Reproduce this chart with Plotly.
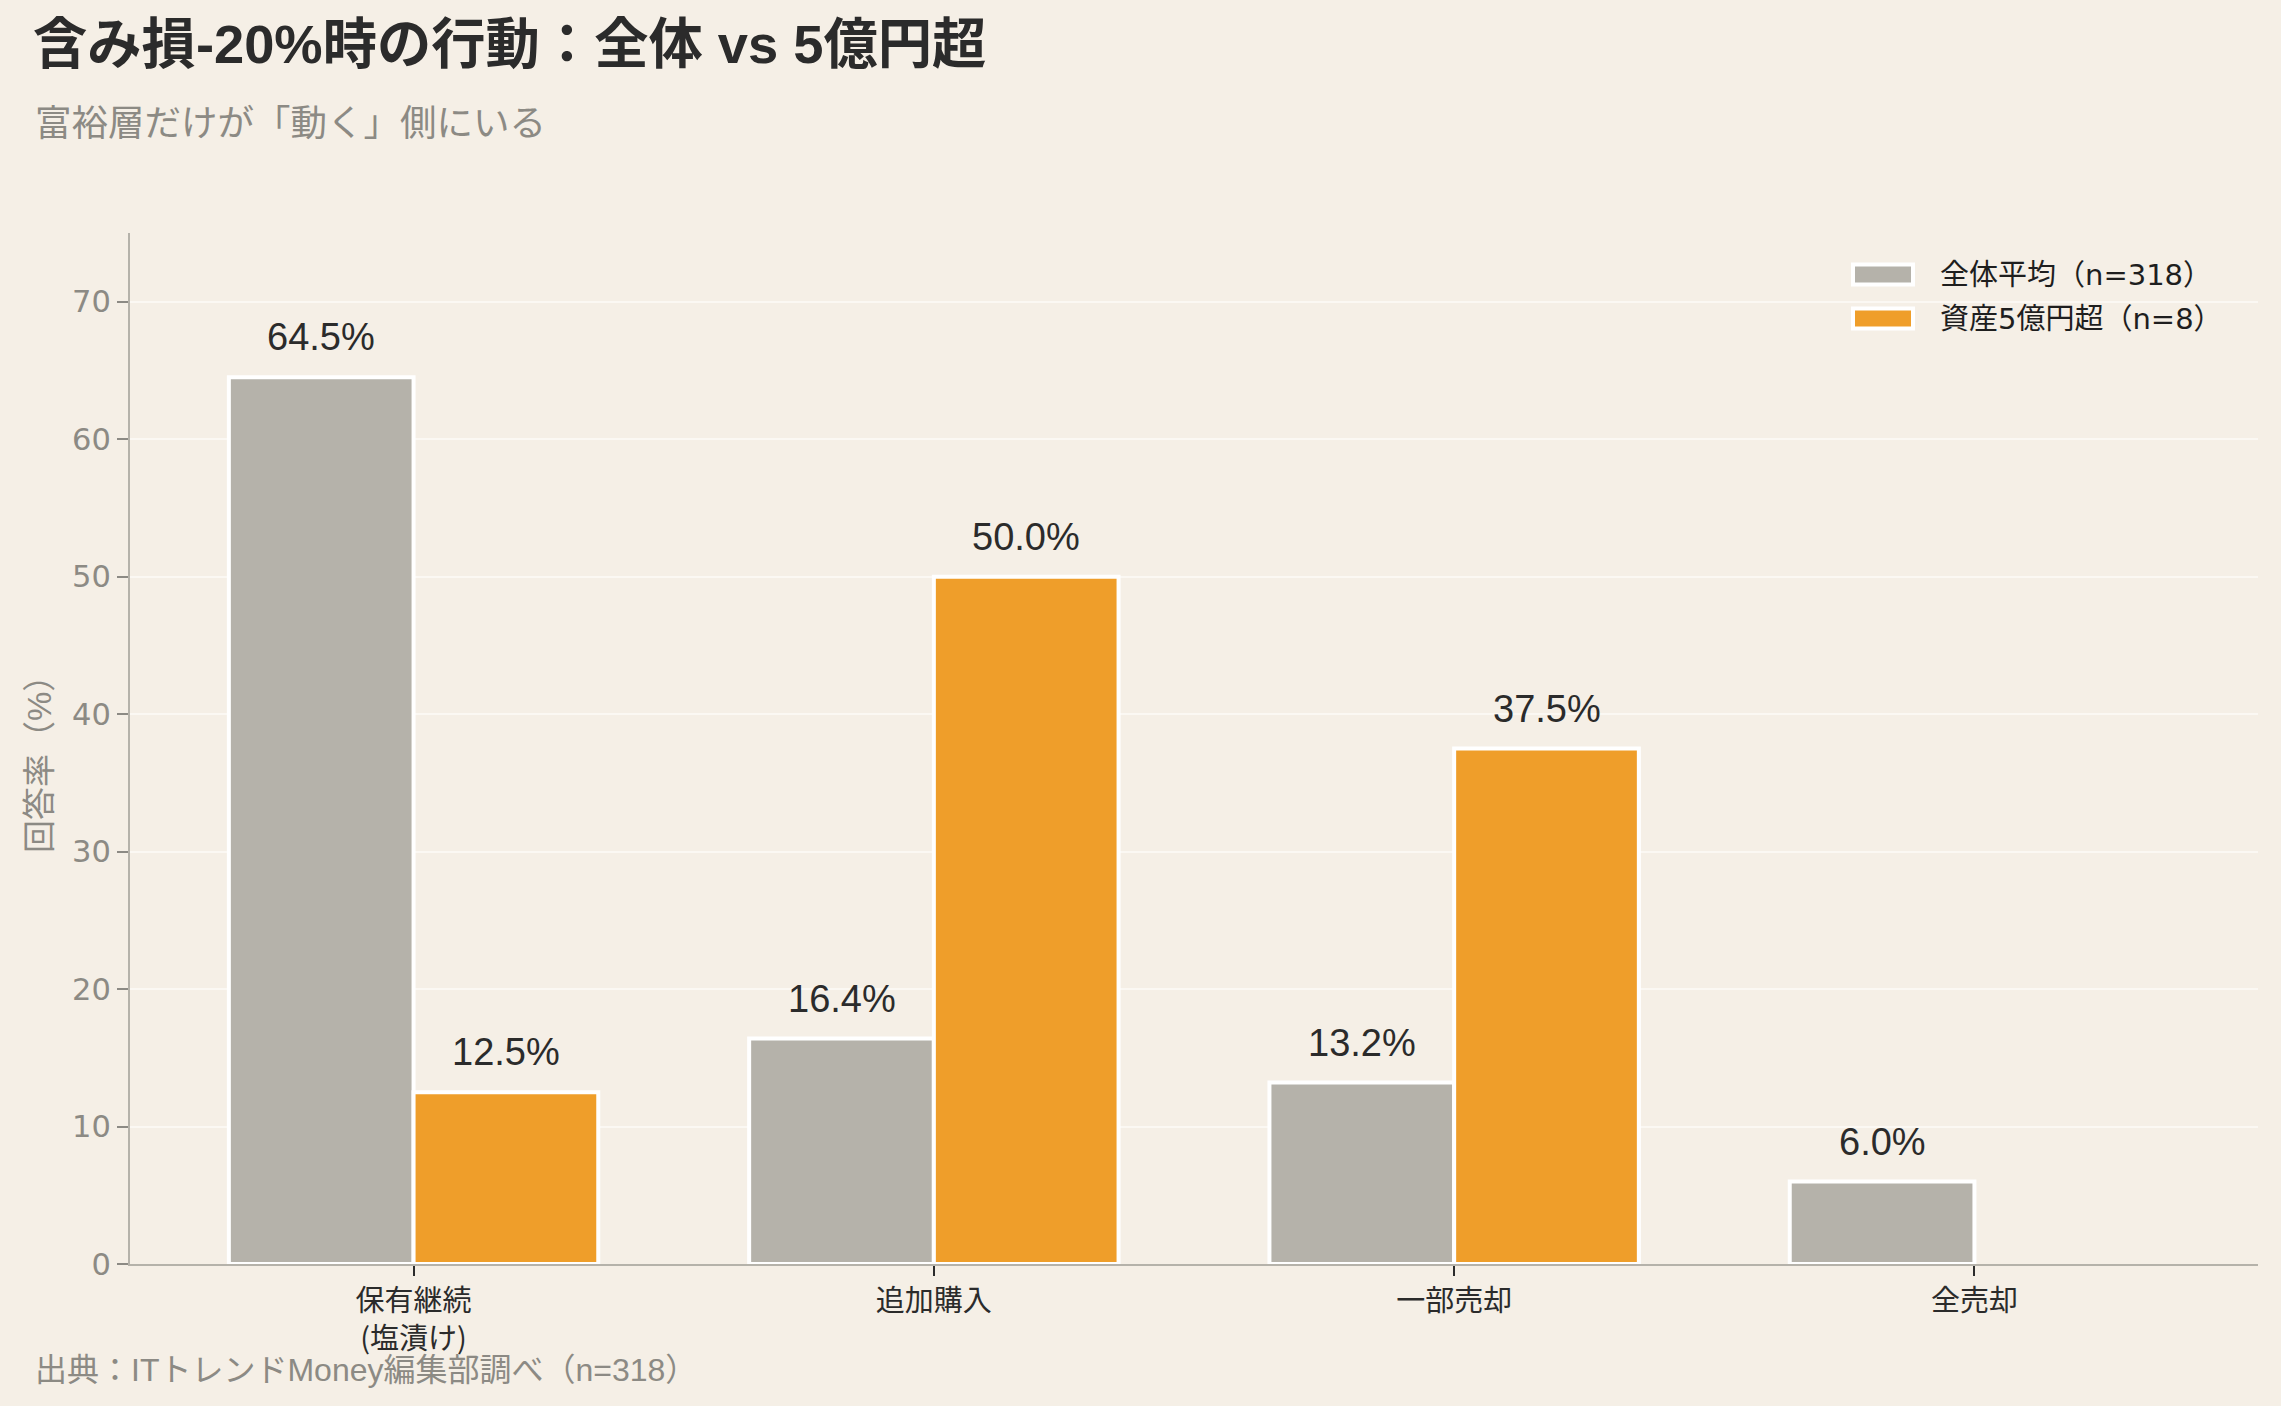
import plotly.graph_objects as go

# ---- data ----
categories = ["保有継続<br>(塩漬け)", "追加購入", "一部売却", "全売却"]
series_names = ["全体平均（n=318）", "資産5億円超（n=8）"]
overall = [64.5, 16.4, 13.2, 6.0]
wealthy = [12.5, 50.0, 37.5, 0.0]
y_ticks = [0, 10, 20, 30, 40, 50, 60, 70]

title_text = "含み損-20%時の行動：全体 vs 5億円超"
subtitle_text = "富裕層だけが「動く」側にいる"
source_text = "出典：ITトレンドMoney編集部調べ（n=318）"
y_title = "回答率（%）"

# ---- style ----
BG = "#F5EFE6"
GRAY = "#B5B2AA"
ORANGE = "#EF9E2A"
DARK = "#2B2B2B"
MUTED = "#8C8A84"
FONT = "Liberation Sans, Noto Sans CJK JP, sans-serif"
CJK = "Noto Sans CJK JP, sans-serif"
NUM = "DejaVu Sans, Noto Sans CJK JP, sans-serif"

W, H = 2281, 1406
L, R, T, B = 130, 23, 233, 142
PW, PH = W - L - R, H - T - B

def px_x(x):
    return (x - L) / PW

def px_y(y):
    return (H - B - y) / PH

series = [overall, wealthy]
colors = [GRAY, ORANGE]

fig = go.Figure()
for name, vals, col in zip(series_names, series, colors):
    fig.add_trace(go.Bar(
        x=list(range(len(categories))),
        y=[v if v > 0 else None for v in vals],
        name=name,
        marker=dict(color=col, line=dict(color="white", width=4)),
        showlegend=False,
    ))

bar_w = 0.355
annotations = []
for si, vals in enumerate(series):
    off = (si - 0.5) * bar_w
    for ci, v in enumerate(vals):
        if v <= 0:
            continue
        annotations.append(dict(
            x=ci + off, y=v, xref="x", yref="y",
            text=f"{v:.1f}%", showarrow=False,
            yanchor="middle", yshift=40,
            font=dict(family=FONT, size=38, color=DARK),
        ))

# subtitle
annotations.append(dict(
    x=px_x(33), y=px_y(121), xref="paper", yref="paper",
    text=subtitle_text, showarrow=False, xanchor="left", yanchor="middle",
    font=dict(family=CJK, size=36.5, color=MUTED),
))
# source
annotations.append(dict(
    x=px_x(33), y=px_y(1370), xref="paper", yref="paper",
    text=source_text, showarrow=False, xanchor="left", yanchor="middle",
    font=dict(family=FONT, size=32, color=MUTED),
))
# y axis title
annotations.append(dict(
    x=px_x(39), y=px_y(756), xref="paper", yref="paper",
    text=y_title, showarrow=False, textangle=-90,
    xanchor="center", yanchor="middle",
    font=dict(family=FONT, size=33, color=MUTED),
))

# manual legend
shapes = []
leg_y = [274.5, 318.5]
for name, col, yc in zip(series_names, colors, leg_y):
    shapes.append(dict(
        type="rect", xref="paper", yref="paper",
        x0=px_x(1853), x1=px_x(1913), y0=px_y(yc + 10), y1=px_y(yc - 10),
        fillcolor=col, line=dict(color="white", width=4), layer="above",
    ))
    annotations.append(dict(
        x=px_x(1938), y=px_y(yc), xref="paper", yref="paper",
        text=name, showarrow=False, xanchor="left", yanchor="middle",
        font=dict(family=NUM, size=29, color="#1E1E1E"),
    ))

fig.update_layout(
    width=W, height=H,
    margin=dict(l=L, r=R, t=T, b=B, pad=0),
    paper_bgcolor=BG, plot_bgcolor=BG,
    barmode="group", bargap=0.29, bargroupgap=0,
    font=dict(family=FONT, color=DARK),
    title=dict(
        text=title_text, x=33 / W, xanchor="left", xref="container",
        y=1 - 44 / H, yanchor="middle", yref="container",
        font=dict(family=FONT, size=54.3, color=DARK, weight=700),
    ),
    annotations=annotations,
    shapes=shapes,
    xaxis=dict(
        tickmode="array", tickvals=list(range(len(categories))), ticktext=categories,
        range=[-0.545, 3.545],
        showline=True, linecolor=GRAY, linewidth=2,
        ticks="outside", ticklen=10, tickwidth=2, tickcolor=DARK,
        tickfont=dict(family=CJK, size=29, color=DARK),
        showgrid=False, zeroline=False,
    ),
    yaxis=dict(
        range=[0, 75], tickvals=y_ticks,
        showline=True, linecolor=GRAY, linewidth=2,
        ticks="outside", ticklen=11, tickwidth=2, tickcolor=MUTED,
        tickfont=dict(family=NUM, size=30.5, color=MUTED),
        showgrid=True, gridcolor="#FBF8F3", gridwidth=2,
        zeroline=False,
    ),
)

fig.write_html("out.html")
